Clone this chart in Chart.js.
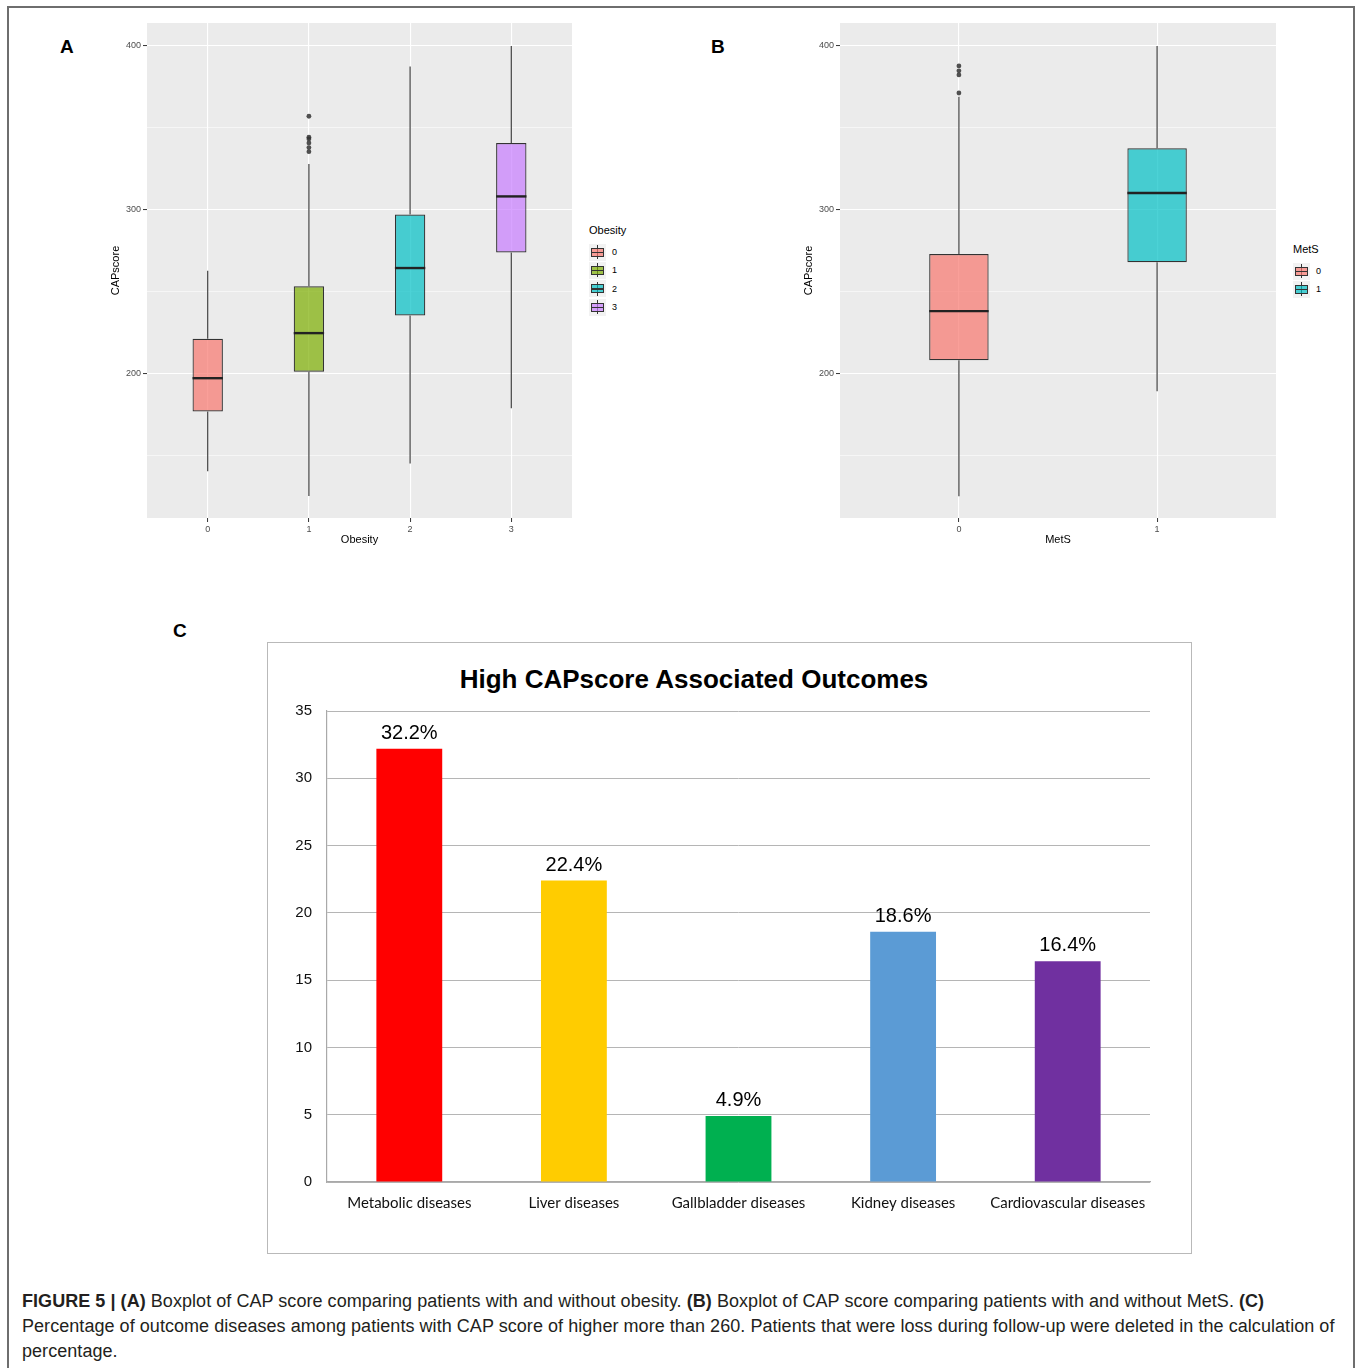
<!DOCTYPE html>
<html>
<head>
<meta charset="utf-8">
<script src="https://cdn.jsdelivr.net/npm/chart.js@4.4.1/dist/chart.umd.min.js"></script>
<style>
  html, body { margin: 0; padding: 0; background: #fff; }
  body { width: 1360px; height: 1368px; position: relative; overflow: hidden; font-family: "Liberation Sans", Arial, sans-serif; }
  .frame { position: absolute; left: 7px; top: 6px; width: 1348px; height: 1400px; border: 2px solid #6e6e6e; box-sizing: border-box; }
  .tag { position: absolute; font: bold 19px "Liberation Sans", Arial, sans-serif; color: #000; line-height: 19px; }
  .wrap { position: absolute; }
  .wrap canvas { display: block; }
  .legend { position: absolute; font-family: "Liberation Sans", Arial, sans-serif; color: #000; }
  .legend .ttl { font-size: 11px; line-height: 13px; margin-bottom: 6px; }
  .legend .row { display: flex; align-items: center; height: 18.3px; }
  .legend .row span { font-size: 9px; color: #000; margin-left: 6px; }
  .key { position: relative; width: 17px; height: 17px; background: #f2f2f2; }
  .key .wh { position: absolute; left: 8px; top: 1.5px; width: 1px; height: 14px; background: #333; }
  .key .bx { position: absolute; left: 2px; top: 4px; width: 13px; height: 9px; border: 1px solid #333; box-sizing: border-box; }
  .key .md { position: absolute; left: 2px; top: 8px; width: 13px; height: 1.4px; background: #333; }
  .panelC { position: absolute; left: 267px; top: 642px; width: 925px; height: 612px; border: 1.5px solid #b9b9b9; box-sizing: border-box; }
  .titleC { position: absolute; left: 394px; width: 600px; top: 664px; text-align: center; font: bold 26px "Liberation Sans", Arial, sans-serif; color: #000; }
  .caption { position: absolute; left: 22px; top: 1289px; font-size: 18px; line-height: 25px; color: #231f20; white-space: nowrap; letter-spacing: 0.05px; }
</style>
</head>
<body>
<div class="frame"></div>

<div class="tag" style="left:60px; top:37px;">A</div>
<div class="tag" style="left:711px; top:37px;">B</div>
<div class="tag" style="left:173px; top:621px;">C</div>

<div class="wrap" style="left:95px; top:13px;"><canvas id="chartObesity" width="481" height="537"></canvas></div>
<div class="wrap" style="left:788px; top:13px;"><canvas id="chartMets" width="492" height="537"></canvas></div>

<div class="legend" id="legendObesity" style="left:589px; top:224px;"></div>
<div class="legend" id="legendMets" style="left:1293px; top:243px;"></div>

<div class="panelC"></div>
<div class="titleC">High CAPscore Associated Outcomes</div>
<div class="wrap" style="left:268px; top:643px;"><canvas id="chartOutcomes" width="922" height="609"></canvas></div>

<div class="caption"><b>FIGURE 5 | (A)</b> Boxplot of CAP score comparing patients with and without obesity. <b>(B)</b> Boxplot of CAP score comparing patients with and without MetS. <b>(C)</b><br>Percentage of outcome diseases among patients with CAP score of higher more than 260. Patients that were loss during follow-up were deleted in the calculation of<br>percentage.</div>

<script>
// ---- Panel A: CAP score by obesity grade ----
const obesityCats = ['0', '1', '2', '3'];
const obesityLow  = [140.5, 125.4, 145.2, 179.0];
const obesityQ1   = [177.0, 201.3, 235.5, 274.0];
const obesityMed  = [197.3, 224.8, 264.5, 308.2];
const obesityQ3   = [221.4, 253.4, 297.1, 340.8];
const obesityHigh = [262.8, 328.0, 387.4, 400.0];
const obesityOutliers = [[], [335.5, 338.0, 340.8, 343.3, 344.3, 357.1], [], []];
const obesityFills = ['rgba(248,118,109,0.7)', 'rgba(124,174,0,0.7)', 'rgba(0,191,196,0.7)', 'rgba(199,124,255,0.7)'];

// ---- Panel B: CAP score by metabolic syndrome ----
const metsCats = ['0', '1'];
const metsLow  = [125.2, 189.3];
const metsQ1   = [208.2, 268.1];
const metsMed  = [238.2, 310.3];
const metsQ3   = [273.1, 337.6];
const metsHigh = [369.0, 400.0];
const metsOutliers = [[371.3, 382.3, 384.8, 387.8], []];
const metsFills = ['rgba(248,118,109,0.7)', 'rgba(0,191,196,0.7)'];

// shared y-axis for the box plots
const capRange = [112, 414];
const capTicks = [150, 200, 250, 300, 350, 400];
const capMajor = [200, 300, 400];

// ---- Panel C: outcomes among patients with high CAP score ----
const outcomeCats = ['Metabolic diseases', 'Liver diseases', 'Gallbladder diseases', 'Kidney diseases', 'Cardiovascular diseases'];
const outcomePct  = [32.2, 22.4, 4.9, 18.6, 16.4];
const outcomeColors = ['#ff0000', '#ffcc00', '#00b050', '#5b9bd5', '#7030a0'];
const pctTicks = [0, 5, 10, 15, 20, 25, 30, 35];

const INK = '#333333';
const FONT = '"Liberation Sans", Arial, sans-serif';

// grey panel background
const panelBg = {
  id: 'panelBg',
  beforeDraw(chart, args, opts) {
    if (!opts.color) return;
    const a = chart.chartArea, ctx = chart.ctx;
    ctx.save();
    ctx.fillStyle = opts.color;
    ctx.fillRect(a.left, a.top, a.right - a.left, a.bottom - a.top);
    ctx.restore();
  }
};

// whiskers (behind boxes) and medians (on top of boxes)
const boxParts = {
  id: 'boxParts',
  beforeDatasetsDraw(chart, args, opts) {
    if (!opts.low) return;
    const y = chart.scales.y, x = chart.scales.x, ctx = chart.ctx;
    ctx.save();
    ctx.strokeStyle = INK;
    ctx.lineWidth = 1.1;
    opts.low.forEach((lo, i) => {
      const px = x.getPixelForValue(i);
      ctx.beginPath();
      ctx.moveTo(px, y.getPixelForValue(opts.high[i]));
      ctx.lineTo(px, y.getPixelForValue(opts.q3[i]));
      ctx.moveTo(px, y.getPixelForValue(opts.q1[i]));
      ctx.lineTo(px, y.getPixelForValue(lo));
      ctx.stroke();
    });
    ctx.restore();
  },
  afterDatasetsDraw(chart, args, opts) {
    if (!opts.med) return;
    const y = chart.scales.y, ctx = chart.ctx;
    const bars = chart.getDatasetMeta(0).data;
    ctx.save();
    ctx.strokeStyle = '#222222';
    ctx.lineWidth = 2.4;
    opts.med.forEach((m, i) => {
      const b = bars[i];
      const py = y.getPixelForValue(m);
      ctx.beginPath();
      ctx.moveTo(b.x - b.width / 2, py);
      ctx.lineTo(b.x + b.width / 2, py);
      ctx.stroke();
    });
    ctx.restore();
  }
};

// value labels above the outcome bars
const barLabels = {
  id: 'barLabels',
  afterDatasetsDraw(chart, args, opts) {
    if (!opts.show) return;
    const ctx = chart.ctx;
    const ds = chart.data.datasets[0];
    ctx.save();
    ctx.font = '20px ' + FONT;
    ctx.fillStyle = '#000';
    ctx.textAlign = 'center';
    ctx.textBaseline = 'alphabetic';
    chart.getDatasetMeta(0).data.forEach((b, i) => {
      ctx.fillText(ds.data[i].toFixed(1) + '%', b.x, b.y - 10);
    });
    ctx.restore();
  }
};

function boxChart(id, cats, low, q1, med, q3, high, outliers, fills, xTitle) {
  const outlierPts = outliers.flatMap((arr, i) => arr.map(v => ({ x: i, y: v })));
  return new Chart(document.getElementById(id), {
    type: 'bar',
    data: {
      datasets: [
        {
          type: 'bar',
          data: cats.map((c, i) => ({ x: i, y: [q1[i], q3[i]] })),
          backgroundColor: fills,
          borderColor: INK,
          borderWidth: 1.2,
          borderSkipped: false,
          barPercentage: 0.3,
          categoryPercentage: 1,
          order: 1
        },
        {
          type: 'scatter',
          data: outlierPts,
          pointRadius: 2.4,
          pointBackgroundColor: 'rgba(51,51,51,0.85)',
          pointBorderWidth: 0,
          showLine: false,
          order: 0
        }
      ]
    },
    options: {
      responsive: false,
      animation: false,
      events: [],
      layout: { padding: { top: 10, right: 0, left: 0, bottom: 0 } },
      plugins: {
        legend: { display: false },
        tooltip: { enabled: false },
        panelBg: { color: '#ebebeb' },
        boxParts: { low, q1, med, q3, high },
        barLabels: { show: false }
      },
      scales: {
        x: {
          type: 'linear',
          min: -0.6,
          max: cats.length - 0.4,
          offset: false,
          afterBuildTicks: s => { s.ticks = cats.map((c, i) => ({ value: i })); },
          afterFit: s => { s.height = 32; s.paddingLeft = 0; s.paddingRight = 0; },
          grid: { offset: false, color: '#ffffff', lineWidth: 1.1, drawTicks: true, tickLength: 4, tickColor: INK, tickWidth: 1 },
          border: { display: false },
          ticks: { callback: v => cats[v], font: { family: FONT, size: 9 }, color: '#4d4d4d', padding: 2, maxRotation: 0 },
          title: { display: true, text: xTitle, font: { family: FONT, size: 11 }, color: '#000', padding: { top: 0, bottom: 3.4 } }
        },
        y: {
          type: 'linear',
          min: capRange[0],
          max: capRange[1],
          afterBuildTicks: s => { s.ticks = capTicks.map(v => ({ value: v })); },
          afterFit: s => { s.width = 52; },
          grid: {
            color: '#ffffff',
            lineWidth: c => capMajor.includes(c.tick.value) ? 1.1 : 0.55,
            drawTicks: true,
            tickLength: 4,
            tickColor: c => capMajor.includes(c.tick.value) ? INK : 'rgba(0,0,0,0)',
            tickWidth: 1
          },
          border: { display: false },
          ticks: { callback: v => capMajor.includes(v) ? String(v) : '', font: { family: FONT, size: 9 }, color: '#4d4d4d', padding: 2 },
          title: { display: true, text: 'CAPscore', font: { family: FONT, size: 11 }, color: '#000', padding: { top: 14.4, bottom: 0 } }
        }
      }
    },
    plugins: [panelBg, boxParts]
  });
}

boxChart('chartObesity', obesityCats, obesityLow, obesityQ1, obesityMed, obesityQ3, obesityHigh, obesityOutliers, obesityFills, 'Obesity');
boxChart('chartMets', metsCats, metsLow, metsQ1, metsMed, metsQ3, metsHigh, metsOutliers, metsFills, 'MetS');

// legends for the box plots
function buildLegend(id, title, cats, fills) {
  const el = document.getElementById(id);
  let html = '<div class="ttl">' + title + '</div>';
  cats.forEach((c, i) => {
    html += '<div class="row"><div class="key"><i class="wh"></i><i class="bx" style="background:' + fills[i] +
            '"></i><i class="md"></i></div><span>' + c + '</span></div>';
  });
  el.innerHTML = html;
}
buildLegend('legendObesity', 'Obesity', obesityCats, obesityFills);
buildLegend('legendMets', 'MetS', metsCats, metsFills);

// Panel C bar chart
new Chart(document.getElementById('chartOutcomes'), {
  type: 'bar',
  data: {
    labels: outcomeCats,
    datasets: [{
      data: outcomePct,
      backgroundColor: outcomeColors,
      borderWidth: 0,
      barPercentage: 0.4,
      categoryPercentage: 1
    }]
  },
  options: {
    responsive: false,
    animation: false,
    events: [],
    layout: { padding: { top: 68, right: 40, left: 0, bottom: 0 } },
    plugins: {
      legend: { display: false },
      tooltip: { enabled: false },
      panelBg: { color: null },
      boxParts: {},
      barLabels: { show: true }
    },
    scales: {
      x: {
        afterFit: s => { s.height = 70; },
        grid: { display: false, drawTicks: false },
        border: { display: true, color: '#a9a9a9', width: 1.2 },
        ticks: { font: { family: 'Lato, "Open Sans", sans-serif', size: 15 }, color: '#111', padding: 12, maxRotation: 0 }
      },
      y: {
        min: 0,
        max: 35,
        afterBuildTicks: s => { s.ticks = pctTicks.map(v => ({ value: v })); },
        afterFit: s => { s.width = 59; },
        grid: { color: '#b5b5b5', lineWidth: 1, drawTicks: false },
        border: { display: true, color: '#a9a9a9', width: 1.2 },
        ticks: { font: { family: FONT, size: 15 }, color: '#111', padding: 15 }
      }
    }
  },
  plugins: [barLabels]
});
</script>
</body>
</html>
